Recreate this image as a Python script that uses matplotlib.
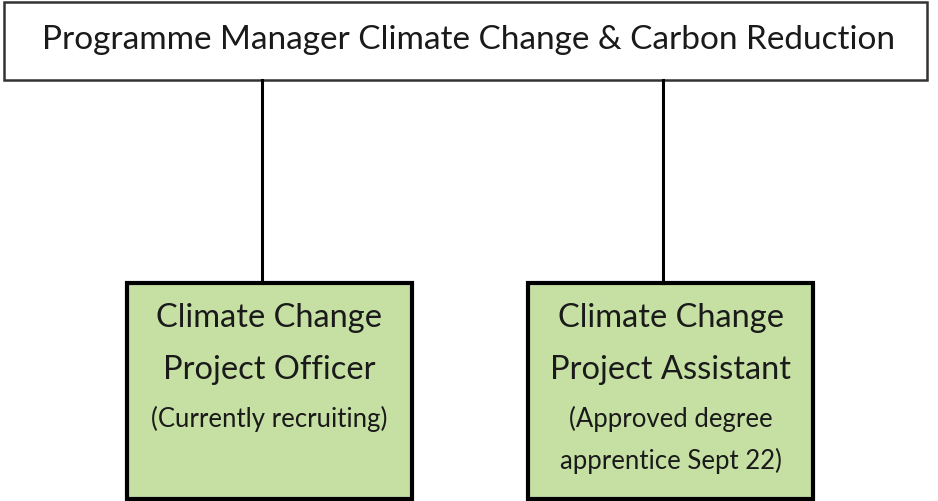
import matplotlib.pyplot as plt
from matplotlib.patches import Rectangle

plt.rcParams['font.family'] = ['Lato', 'DejaVu Sans']

# org chart content
top_title = "Programme Manager Climate Change & Carbon Reduction"
roles = ["Climate Change\nProject Officer", "Climate Change\nProject Assistant"]
notes = ["(Currently recruiting)", "(Approved degree\napprentice Sept 22)"]

W, H = 938, 502
fig = plt.figure(figsize=(W / 100, H / 100), dpi=100)
ax = fig.add_axes([0, 0, 1, 1])
ax.set_xlim(0, W)
ax.set_ylim(H, 0)
ax.axis("off")

# top box
ax.add_patch(Rectangle((4, 3), 923, 78, facecolor="white", edgecolor="#333333", lw=1.8))
ax.text(469, 40, top_title, ha="center", va="center", fontsize=24, color="#1a1a1a")

# child boxes
child_x = [127, 528]
box_w, box_top, box_bot = 285, 284, 500
for x0, role, note in zip(child_x, roles, notes):
    cx = x0 + box_w / 2
    ax.plot([x0 + 135, x0 + 135], [81, box_top], color="black", lw=2.2)
    ax.add_patch(Rectangle((x0, box_top), box_w, box_bot - box_top,
                           facecolor="#C6E0A4", edgecolor="black", lw=3))
    lines = role.split("\n")
    for i, line in enumerate(lines):
        ax.text(cx, 318 + i * 52, line, ha="center", va="center", fontsize=23.5, color="#1a1a1a")
    for j, line in enumerate(note.split("\n")):
        ax.text(cx, 419 + j * 42, line, ha="center", va="center", fontsize=18.5, color="#1a1a1a")

fig.savefig("out.png", dpi=100)
